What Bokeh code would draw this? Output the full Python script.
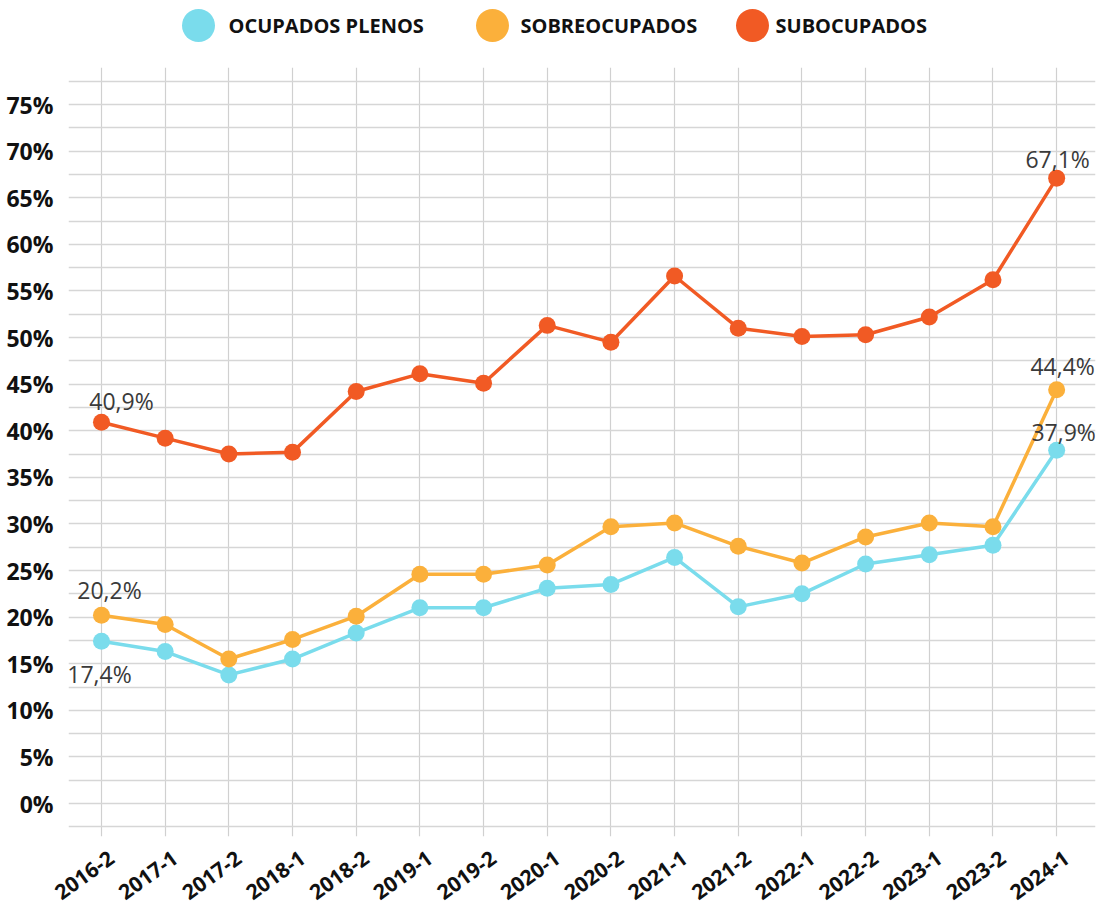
import math
from bokeh.plotting import figure
from bokeh.models import FixedTicker, Label, Range1d, LinearAxis
from bokeh.layouts import column
from bokeh.embed import file_html
from bokeh.resources import INLINE
from bokeh.core.properties import value

# ---------------- data ----------------
periods = ["2016-2", "2017-1", "2017-2", "2018-1", "2018-2", "2019-1", "2019-2", "2020-1",
           "2020-2", "2021-1", "2021-2", "2022-1", "2022-2", "2023-1", "2023-2", "2024-1"]
ocupados_plenos = [17.4, 16.3, 13.8, 15.5, 18.3, 21.0, 21.0, 23.1, 23.5, 26.4, 21.1, 22.5, 25.7, 26.7, 27.7, 37.9]
sobreocupados = [20.2, 19.2, 15.5, 17.6, 20.1, 24.6, 24.6, 25.6, 29.7, 30.1, 27.6, 25.8, 28.6, 30.1, 29.7, 44.4]
subocupados = [40.9, 39.2, 37.5, 37.7, 44.2, 46.1, 45.1, 51.3, 49.5, 56.6, 51.0, 50.1, 50.3, 52.2, 56.2, 67.1]
series_names = ["OCUPADOS PLENOS", "SOBREOCUPADOS", "SUBOCUPADOS"]
y_ticks = [0, 5, 10, 15, 20, 25, 30, 35, 40, 45, 50, 55, 60, 65, 70, 75]

# ---------------- style ----------------
colors = ["#7ADCEC", "#FBB03B", "#F15A24"]
FONT = "Open Sans"
LABEL_COLOR = "#3a3a3a"
TICK_COLOR = "#111111"

x_idx = list(range(len(periods)))
series = [ocupados_plenos, sobreocupados, subocupados]

# ---------------- legend strip (frame aligned with main frame: page px 68..1095) ----------------
leg = figure(width=1118, height=63, x_range=Range1d(68, 1095), y_range=Range1d(0, 63),
             output_backend="svg", toolbar_location=None, min_border=0,
             x_axis_location=None, y_axis_location=None)
leg.grid.visible = False
leg.outline_line_color = None
leg_circle_x = [198, 492, 752]
leg_text_x = [228, 520, 775]
leg_y = [38, 38, 38]
leg.scatter(leg_circle_x, leg_y, size=33, color=colors, line_color=None)
leg.text(leg_text_x, leg_y, text=series_names, text_font=value(FONT), text_font_style="bold",
         text_font_size="20px", text_baseline="middle", text_align="left", text_color=TICK_COLOR)

# ---------------- main chart ----------------
X0, X1 = -0.518, 15.61
p = figure(width=1118, height=846, output_backend="svg", toolbar_location=None,
           x_range=Range1d(X0, X1), y_range=Range1d(-3.54, 78.97),
           min_border_left=68, min_border_right=23, min_border_top=4, min_border_bottom=72,
           x_axis_location=None)
p.outline_line_color = None
p.background_fill_color = "white"

for vals, c in zip(series, colors):
    p.line(x_idx, vals, line_width=3.5, color=c)
    p.scatter(x_idx, vals, size=17, color=c, line_color=None)

# x axis on a slightly shifted range so the rotated labels sit like the original
shift = 10 / (1027 / (X1 - X0))
p.extra_x_ranges = {"lab": Range1d(X0 - shift, X1 - shift)}
xax = LinearAxis(x_range_name="lab")
p.add_layout(xax, "below")
xax.ticker = FixedTicker(ticks=x_idx)
xax.major_label_overrides = {i: s for i, s in zip(x_idx, periods)}
xax.major_label_orientation = math.radians(36)
xax.major_label_text_font_size = "21px"
xax.major_label_standoff = 13

p.yaxis.ticker = FixedTicker(ticks=y_ticks)
p.yaxis.major_label_overrides = {t: f"{t}%" for t in y_ticks}
p.yaxis.major_label_text_font_size = "23px"
p.yaxis.major_label_standoff = 9

for ax in (xax, p.yaxis[0]):
    ax.axis_line_color = None
    ax.major_tick_line_color = None
    ax.minor_tick_line_color = None
    ax.major_label_text_font = FONT
    ax.major_label_text_font_style = "bold"
    ax.major_label_text_color = TICK_COLOR

# grid
p.ygrid.ticker = FixedTicker(ticks=[-2.5 + 2.5 * i for i in range(33)])
p.ygrid.grid_line_color = "#d6d6d6"
p.ygrid.grid_line_width = 1.5
p.xgrid.ticker = FixedTicker(ticks=x_idx)
p.xgrid.grid_line_color = "#d0d0d0"
p.xgrid.grid_line_width = 1.2

# data labels (first and last points)
first_off = [(-2, -33), (8, 25), (20, 21)]
last_off = [(7, 18), (6, 24), (1, 19)]
for vals, fo, lo in zip(series, first_off, last_off):
    for i, off in ((0, fo), (len(vals) - 1, lo)):
        p.add_layout(Label(x=x_idx[i], y=vals[i], text=f"{vals[i]:.1f}%".replace(".", ","),
                           x_offset=off[0], y_offset=off[1],
                           text_align="center", text_baseline="middle", text_font=FONT,
                           text_font_size="23px", text_color=LABEL_COLOR))

layout = column(leg, p, spacing=0)
open("out.html", "w").write(file_html(layout, INLINE))
